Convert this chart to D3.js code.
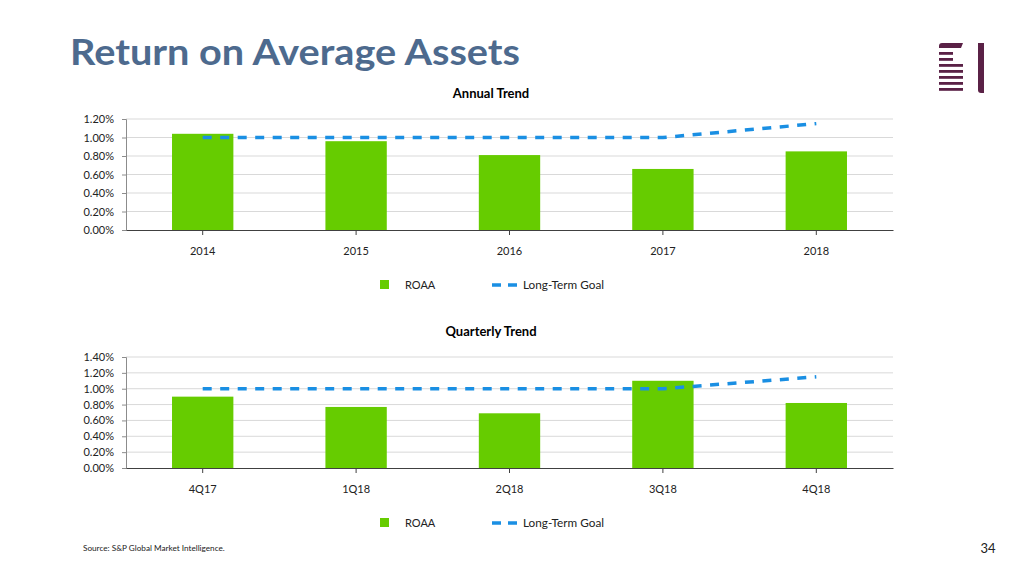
<!DOCTYPE html>
<html><head><meta charset="utf-8">
<script src="https://cdn.jsdelivr.net/npm/d3@7"></script>
<style>body{margin:0;background:#fff}svg{display:block}text{font-family:Lato,"Open Sans",sans-serif}</style>
</head><body><svg id="c" width="1024" height="576"></svg>
<script>
const annualCategories = ["2014","2015","2016","2017","2018"];
const annualROAA = [1.04, 0.96, 0.81, 0.66, 0.85];
const annualGoal = [1.00, 1.00, 1.00, 1.00, 1.15];
const annualTicks = [0, 0.2, 0.4, 0.6, 0.8, 1.0, 1.2];

const quarterCategories = ["4Q17","1Q18","2Q18","3Q18","4Q18"];
const quarterROAA = [0.90, 0.77, 0.69, 1.10, 0.82];
const quarterGoal = [1.00, 1.00, 1.00, 1.00, 1.15];
const quarterTicks = [0, 0.2, 0.4, 0.6, 0.8, 1.0, 1.2, 1.4];

const svg = d3.select("#c");
const GREEN = "#66cc00", BLUE = "#1a8fe3";

svg.append("text").attr("x", 70).attr("y", 65).attr("font-size", 36).attr("font-weight", 700)
  .attr("fill", "#4d6a8e").attr("textLength", 450).attr("lengthAdjust", "spacingAndGlyphs")
  .text("Return on Average Assets");

function drawChart(o) {
  const x = d3.scaleBand().domain(o.cats).range([126, 893]);
  const y = d3.scaleLinear().domain([0, o.max]).range([o.bottom, o.top]);
  const g = svg.append("g");
  g.append("text").attr("x", 491).attr("y", o.titleY).attr("text-anchor", "middle")
    .attr("font-size", 13).attr("font-weight", 700).attr("fill", "#000").text(o.title);
  // grid
  g.selectAll(".grid").data(o.ticks.slice(1)).join("line")
    .attr("x1", 126).attr("x2", 893).attr("y1", d => y(d)).attr("y2", d => y(d))
    .attr("stroke", "#d9d9d9").attr("stroke-width", 1);
  // y axis
  const ya = g.append("g").attr("transform", "translate(126,0)")
    .call(d3.axisLeft(y).tickValues(o.ticks).tickFormat(d => d.toFixed(2) + "%").tickSize(4).tickPadding(8));
  ya.select(".domain").attr("stroke", "#8c8c8c");
  ya.selectAll(".tick line").attr("stroke", "#8c8c8c");
  ya.selectAll("text").attr("font-size", 11).attr("fill", "#222").attr("font-family", "Lato");
  // bars
  const bw = x.bandwidth() * 0.4;
  g.selectAll(".bar").data(o.vals).join("rect")
    .attr("x", (d, i) => x(o.cats[i]) + x.bandwidth() / 2 - bw / 2)
    .attr("width", bw).attr("y", d => y(d)).attr("height", d => o.bottom - y(d)).attr("fill", GREEN);
  // x axis
  const xa = g.append("g").attr("transform", `translate(0,${o.bottom})`)
    .call(d3.axisBottom(x).tickSize(5).tickSizeOuter(0).tickPadding(12));
  xa.select(".domain").attr("stroke", "#404040");
  xa.selectAll(".tick line").attr("stroke", "#404040");
  xa.selectAll("text").attr("font-size", 11).attr("fill", "#222").attr("font-family", "Lato");
  // goal line
  const line = d3.line().x((d, i) => x(o.cats[i]) + x.bandwidth() / 2).y(d => y(d));
  g.append("path").datum(o.goal).attr("d", line).attr("fill", "none")
    .attr("stroke", BLUE).attr("stroke-width", 3.5).attr("stroke-dasharray", "9,8.5");
  // legend
  const ly = o.legendY;
  g.append("rect").attr("x", 380).attr("y", ly - 5).attr("width", 9).attr("height", 9).attr("fill", GREEN);
  g.append("text").attr("x", 405).attr("y", ly + 4).attr("font-size", 11).attr("fill", "#222").text("ROAA");
  g.append("line").attr("x1", 492).attr("x2", 517).attr("y1", ly).attr("y2", ly)
    .attr("stroke", BLUE).attr("stroke-width", 3.5).attr("stroke-dasharray", "9,7");
  g.append("text").attr("x", 523).attr("y", ly + 4).attr("font-size", 11).attr("fill", "#222")
    .attr("textLength", 81).attr("lengthAdjust", "spacingAndGlyphs").text("Long-Term Goal");
}

drawChart({cats: annualCategories, vals: annualROAA, goal: annualGoal, ticks: annualTicks, max: 1.2,
  top: 119, bottom: 230, title: "Annual Trend", titleY: 98, legendY: 285});
drawChart({cats: quarterCategories, vals: quarterROAA, goal: quarterGoal, ticks: quarterTicks, max: 1.4,
  top: 357, bottom: 468, title: "Quarterly Trend", titleY: 336, legendY: 523});

svg.append("text").attr("x", 83).attr("y", 551).attr("font-size", 8.2).attr("fill", "#222")
  .text("Source: S&P Global Market Intelligence.");
svg.append("text").attr("x", 988).attr("y", 553).attr("text-anchor", "middle").attr("font-size", 13).attr("fill", "#222").text("34");

// logo
const logo = svg.append("g").attr("fill", "#5a2146");
logo.append("path").attr("d", "M939,48 L939,46 Q939,43 942,43 L963,43 L961,48 Z");
const lineYs = [52, 58, 64, 70, 76, 82, 88];
lineYs.forEach((ly, i) => logo.append("rect").attr("x", 939).attr("y", ly).attr("width", i < 2 ? 14 : 24).attr("height", 2.8));
logo.append("path").attr("d", "M978,43 L984,43 L984,93 L981,93 Q978,93 978,90 Z");
</script></body></html>
